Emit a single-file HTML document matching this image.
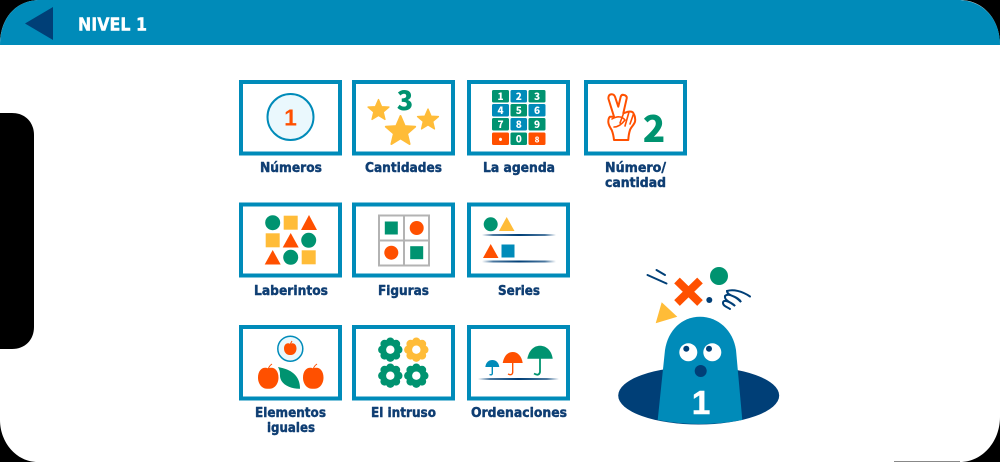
<!DOCTYPE html>
<html><head><meta charset="utf-8"><style>
html,body{margin:0;padding:0;background:#000}
svg{display:block}
text{font-family:"DejaVu Sans","Liberation Sans",sans-serif;font-weight:bold}
.l{fill:#0f3e73;font-size:13px;stroke:#0f3e73;stroke-width:.45px;stroke-linejoin:round}
.d{font-family:"Noto Sans CJK JP","Liberation Sans",sans-serif;font-weight:900}
.o{font-family:"Liberation Sans",sans-serif;font-weight:bold}
</style></head><body>
<svg width="1000" height="462" viewBox="0 0 1000 462" xmlns="http://www.w3.org/2000/svg">
<defs>
<linearGradient id="fade" x1="0" x2="1" y1="0" y2="0"><stop offset="0" stop-color="#003f77" stop-opacity="0"/><stop offset=".15" stop-color="#003f77" stop-opacity=".7"/><stop offset=".5" stop-color="#003f77"/><stop offset=".85" stop-color="#003f77" stop-opacity=".7"/><stop offset="1" stop-color="#003f77" stop-opacity="0"/></linearGradient>
<g id="flower"><g>
<circle cx="0" cy="-8" r="4.200"/><circle cx="5.700" cy="-5.700" r="4.200"/><circle cx="8" cy="0" r="4.200"/><circle cx="5.700" cy="5.700" r="4.200"/><circle cx="0" cy="8" r="4.200"/><circle cx="-5.700" cy="5.700" r="4.200"/><circle cx="-8" cy="0" r="4.200"/><circle cx="-5.700" cy="-5.700" r="4.200"/><circle r="7"/></g><circle r="4.200" fill="#fff"/></g>
<polygon id="star" points="0,-1 .28,-.35 .95,-.31 .43,.14 .59,.81 0,.45 -.59,.81 -.43,.14 -.95,-.31 -.28,-.35"/>
</defs>
<rect width="1000" height="462" fill="#000"/>
<!-- screen shape -->
<path fill="#fff" d="M40,0H960C982,0 1000,18 1000,45V417C1000,442 982,462 960,462H38C16,462 0,442 0,420V349H12C25,349 34,340 34,327V135C34,122 25,113 12,113H0V45C0,18 16,0 40,0Z"/>
<rect x="894" y="461" width="66" height="1" fill="#888"/>
<path fill="#008bb9" d="M40,0H958C982,0 1000,18 1000,45H0C0,18 16,0 40,0Z"/>
<polygon points="25,23.500 53,7 53,40" fill="#003f77"/>
<text x="78" y="30.500" font-size="18" fill="#fff" stroke="#fff" stroke-width=".4" textLength="69" lengthAdjust="spacingAndGlyphs">NIVEL 1</text>

<!-- boxes -->
<g fill="#fff" stroke="#008bb9" stroke-width="4">
<rect x="241" y="82" width="99" height="71.500"/>
<rect x="354" y="82" width="99" height="71.500"/>
<rect x="469" y="82" width="99" height="71.500"/>
<rect x="586" y="82" width="99" height="71.500"/>
<rect x="241" y="204.500" width="99" height="71"/>
<rect x="354" y="204.500" width="99" height="71"/>
<rect x="469" y="204.500" width="99" height="71"/>
<rect x="241" y="327" width="99" height="71.500"/>
<rect x="354" y="327" width="99" height="71.500"/>
<rect x="469" y="327" width="99" height="71.500"/>
</g>

<!-- labels -->
<text class="l" x="260" y="172" textLength="62" lengthAdjust="spacingAndGlyphs">Números</text>
<text class="l" x="365" y="172" textLength="77" lengthAdjust="spacingAndGlyphs">Cantidades</text>
<text class="l" x="483" y="172" textLength="72" lengthAdjust="spacingAndGlyphs">La agenda</text>
<text class="l" x="605" y="172" textLength="61" lengthAdjust="spacingAndGlyphs">Número/</text>
<text class="l" x="605" y="187" textLength="61" lengthAdjust="spacingAndGlyphs">cantidad</text>
<text class="l" x="254" y="295" textLength="74" lengthAdjust="spacingAndGlyphs">Laberintos</text>
<text class="l" x="378" y="295" textLength="51" lengthAdjust="spacingAndGlyphs">Figuras</text>
<text class="l" x="498" y="295" textLength="42" lengthAdjust="spacingAndGlyphs">Series</text>
<text class="l" x="255" y="417" textLength="71" lengthAdjust="spacingAndGlyphs">Elementos</text>
<text class="l" x="267" y="432" textLength="48" lengthAdjust="spacingAndGlyphs">iguales</text>
<text class="l" x="371" y="417" textLength="65" lengthAdjust="spacingAndGlyphs">El intruso</text>
<text class="l" x="471" y="417" textLength="96" lengthAdjust="spacingAndGlyphs">Ordenaciones</text>

<!-- Numeros -->
<circle cx="290.500" cy="117" r="23" fill="#eaf8fd" stroke="#008bb9" stroke-width="2"/>
<text class="o" x="290.500" y="125.500" text-anchor="middle" font-size="23" fill="#ff5000">1</text>

<!-- Cantidades -->
<g fill="#ffbc38" stroke="#ffbc38" stroke-width=".12" stroke-linejoin="round">
<use href="#star" transform="translate(378.500,110.500) scale(11)"/>
<use href="#star" transform="translate(400.500,131.500) scale(15.500)"/>
<use href="#star" transform="translate(428,120) scale(11)"/>
</g>
<text class="d" x="405" y="110" text-anchor="middle" font-size="27" fill="#009370">3</text>

<!-- Agenda -->
<g>
<rect x="492" y="90" width="17" height="12.500" rx="1.500" fill="#009370"/><rect x="510.500" y="90" width="16.500" height="12.500" rx="1.500" fill="#008bb9"/><rect x="528.500" y="90" width="17" height="12.500" rx="1.500" fill="#009370"/>
<rect x="492" y="104" width="17" height="12.500" rx="1.500" fill="#008bb9"/><rect x="510.500" y="104" width="16.500" height="12.500" rx="1.500" fill="#009370"/><rect x="528.500" y="104" width="17" height="12.500" rx="1.500" fill="#008bb9"/>
<rect x="492" y="118" width="17" height="12.500" rx="1.500" fill="#009370"/><rect x="510.500" y="118" width="16.500" height="12.500" rx="1.500" fill="#008bb9"/><rect x="528.500" y="118" width="17" height="12.500" rx="1.500" fill="#009370"/>
<rect x="492" y="132.500" width="17" height="12.500" rx="1.500" fill="#ff5000"/><rect x="510.500" y="132.500" width="16.500" height="12.500" rx="1.500" fill="#009370"/><rect x="528.500" y="132.500" width="17" height="12.500" rx="1.500" fill="#ff5000"/>
</g>
<g class="d" font-size="10" text-anchor="middle" fill="#fff">
<text class="d" x="500.500" y="100">1</text><text class="d" x="518.750" y="100">2</text><text class="d" x="537" y="100">3</text>
<text class="d" x="500.500" y="114">4</text><text class="d" x="518.750" y="114">5</text><text class="d" x="537" y="114">6</text>
<text class="d" x="500.500" y="128">7</text><text class="d" x="518.750" y="128">8</text><text class="d" x="537" y="128">9</text>
<text class="d" x="500.500" y="142.500">•</text><text class="d" x="518.750" y="142.500">0</text><text class="d" x="537" y="142.500" font-size="8">8</text>
</g>

<!-- Hand + 2 -->
<path fill="#fff" stroke="#ff5000" stroke-width="2" stroke-linejoin="round" stroke-linecap="round" d="M614,140C613.500,135 612.500,132 611.700,130C610,127 608.300,125 608.300,121.700C608.300,119 609,117.500 610,116.700L614,116.700L608.500,99C608,96 609.500,94.300 611.700,94.300C613.500,94.300 614.500,95.500 615,96.700L618.300,106.700L620.700,96.700C621.300,95 622.500,94.500 624,95C626,95.500 627,96.500 626.700,98.300L623.300,113.300L628,111.700C631,111 633,112 633.500,113.300C635,116 635.500,119 635,121.700C634,125 631,127 630,130C629,133 628.500,136 628.300,140Z"/>
<path fill="none" stroke="#ff5000" stroke-width="1.600" stroke-linecap="round" stroke-linejoin="round" d="M612,119C617,116 622,116 625,120C622,124 618,127 614,127M623.500,113.500L620,123M629,112L625,126M633.500,114L630,124"/>
<text class="d" x="654" y="142" text-anchor="middle" font-size="37" fill="#009370">2</text>

<!-- Laberintos -->
<circle cx="272.700" cy="222.700" r="7.500" fill="#009370"/>
<rect x="283.700" y="215.700" width="14" height="14" fill="#ffbc38"/>
<polygon points="309,215 317,230 301,230" fill="#ff5000"/>
<rect x="265.700" y="233.300" width="14" height="14" fill="#ffbc38"/>
<polygon points="290.700,233 298.700,247.500 282.700,247.500" fill="#ff5000"/>
<circle cx="308.700" cy="240.300" r="7.500" fill="#009370"/>
<polygon points="272.700,250 280.700,264.500 264.700,264.500" fill="#ff5000"/>
<circle cx="290.700" cy="257.300" r="7.500" fill="#009370"/>
<rect x="301.700" y="250.300" width="14" height="14" fill="#ffbc38"/>

<!-- Figuras -->
<g fill="none" stroke="#b3b3b3" stroke-width="2"><rect x="379" y="215.500" width="50" height="50"/><path d="M404,215.500V265.500M379,240.500H429"/></g>
<rect x="384.800" y="221.500" width="13" height="13" fill="#009370"/>
<circle cx="416.700" cy="228" r="7" fill="#ff5000"/>
<circle cx="391.300" cy="252.700" r="7" fill="#ff5000"/>
<rect x="410.200" y="246.200" width="13" height="13" fill="#009370"/>

<!-- Series -->
<circle cx="490.700" cy="224.300" r="7" fill="#009370"/>
<polygon points="506.700,217 514.500,231 499,231" fill="#ffbc38"/>
<rect x="482" y="234" width="74" height="2" fill="url(#fade)"/>
<polygon points="490.700,244 498.500,258 483,258" fill="#ff5000"/>
<rect x="501.500" y="244.500" width="13" height="13" fill="#008bb9"/>
<rect x="482" y="260.500" width="74" height="2" fill="url(#fade)"/>

<!-- Elementos -->
<circle cx="290.300" cy="348.700" r="12.500" fill="#eaf8fd" stroke="#008bb9" stroke-width="1.500"/>
<g fill="#ff5000">
<path d="M290.300,344C293,342 296.500,344 296.500,348.500C296.500,352.500 293.500,355.500 290.300,355C287,355.500 284,352.500 284,348.500C284,344 287.500,342 290.300,344Z"/>
<path d="M268.300,368.500C273.500,366 278.500,370 278.500,377.500C278.500,384.500 274,389.500 268.300,388.700C262.500,389.500 258,384.500 258,377.500C258,370 263,366 268.300,368.500Z"/>
<path d="M313.300,368.500C318.500,366 323.500,370 323.500,377.500C323.500,384.500 319,389.500 313.300,388.700C307.500,389.500 303,384.500 303,377.500C303,370 308,366 313.300,368.500Z"/>
</g>
<path d="M290.300,344L292,341M268.300,369Q269,366 272,364M313.300,369Q314,366 317,364" fill="none" stroke="#ff5000" stroke-width="1"/>
<path d="M278,367C288,369 300,373 300,388.700C290,389 279,384 280,374C280,371 279,369 278,367Z" fill="#009370"/>

<!-- Intruso -->
<use href="#flower" x="390.300" y="349.700" fill="#009370"/>
<use href="#flower" x="416.300" y="349.700" fill="#ffbc38"/>
<use href="#flower" x="390.300" y="375.700" fill="#009370"/>
<use href="#flower" x="416.300" y="375.700" fill="#009370"/>

<!-- Ordenaciones -->
<path d="M485.300,367C486,362 489,360 492.300,360C495.600,360 498.600,362 499.300,367Z" fill="#008bb9"/>
<path d="M492.300,366V373.500Q492,375.500 489.500,374.500" fill="none" stroke="#008bb9" stroke-width="1.400"/>
<path d="M502.700,363C504,355.500 508,352 512.700,352C517.400,352 521.500,355.500 522.700,363Z" fill="#ff5000"/>
<path d="M512.700,362V372.500Q512,376 508,374" fill="none" stroke="#ff5000" stroke-width="1.400"/>
<path d="M527.300,358.700C529,350 534,345.700 540,345.700C546,345.700 551.500,350 552.700,358.700Z" fill="#009370"/>
<path d="M540,358V372Q539,376.500 534,373.500" fill="none" stroke="#009370" stroke-width="1.800"/>
<rect x="478" y="378" width="81" height="2" fill="url(#fade)"/>

<!-- Mole -->
<ellipse cx="698.700" cy="395.500" rx="80.500" ry="29" fill="#003f77"/>
<path fill="#008bb9" d="M657.700,420L665,350C668,330 682,316.700 700,316.700C718,316.700 733,330 736,350L742.300,420Q700,428 657.700,420Z"/>
<circle cx="688.300" cy="352.300" r="9" fill="#fff"/><circle cx="686.300" cy="348.700" r="3" fill="#003f77"/>
<circle cx="712.300" cy="352.300" r="9" fill="#fff"/><circle cx="709" cy="348.700" r="3" fill="#003f77"/>
<ellipse cx="700.700" cy="371" rx="6" ry="6" fill="#003f77"/>
<text class="o" x="701" y="414" text-anchor="middle" font-size="33" fill="#fff" stroke="#fff" stroke-width=".6">1</text>
<circle cx="719" cy="276" r="9" fill="#009370"/>
<path d="M677,280.500L700,303M700,280.500L677,303" stroke="#ff5000" stroke-width="8" fill="none"/>
<circle cx="709.300" cy="300" r="3" fill="#003f77"/>
<polygon points="661.700,302.300 677.300,316.700 655.700,323.300" fill="#ffbc38"/>
<path d="M647.500,275L666.500,283.500M656.500,270L665,275" stroke="#003f77" stroke-width="2" fill="none" stroke-linecap="round"/>
<path d="M750,296.500C742,291 733,289 727,291C727,296 738,296 741,302C735,296 728,293 725,296C724,301 733,303 735,306C729,301 723,299 723,303C723,306 727,307 730,309" stroke="#003f77" stroke-width="2" fill="none" stroke-linecap="round"/>
</svg>
</body></html>
